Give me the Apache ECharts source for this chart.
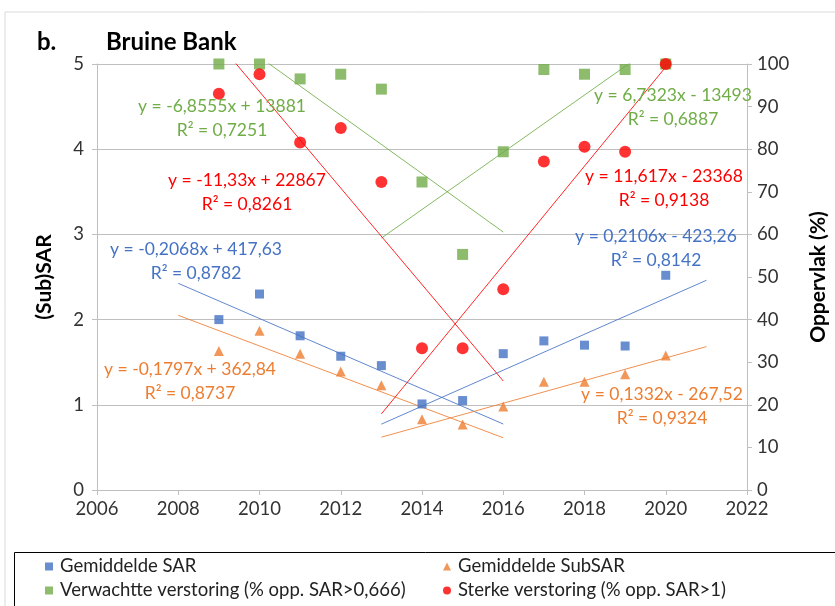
<!DOCTYPE html>
<html><head><meta charset="utf-8">
<script src="https://cdn.jsdelivr.net/npm/echarts@6/dist/echarts.min.js"></script>
<style>html,body{margin:0;padding:0;background:#fff}#c{width:835px;height:606px}</style>
</head><body><div id="c"></div>
<script>
var years = [2009,2010,2011,2012,2013,2014,2015,2016,2017,2018,2019,2020];
var sar = [2.00,2.30,1.81,1.57,1.46,1.01,1.05,1.60,1.75,1.70,1.69,2.52];
var subsar = [1.63,1.87,1.60,1.39,1.23,0.83,0.77,0.98,1.27,1.27,1.36,1.58];
var verwacht = [100,100,96.5,97.6,94.1,72.3,55.3,79.4,98.7,97.6,98.7,100];
var sterk = [93.0,97.6,81.6,85.0,72.3,33.3,33.3,47.1,77.1,80.6,79.4,100];
var seriesNames = ['Gemiddelde SAR','Gemiddelde SubSAR','Verwachtte verstoring (% opp. SAR>0,666)','Sterke verstoring (% opp. SAR>1)'];
var xTicks = [2006,2008,2010,2012,2014,2016,2018,2020,2022];
// trend fit periods
var fitDown = [2009,2015], extDown = [2008,2016];
var fitUp = [2014,2020], extUp = [2013,2021];
var eqTexts = {
  sarDown:['y = -0,2068x + 417,63','R² = 0,8782'],
  sarUp:['y = 0,2106x - 423,26','R² = 0,8142'],
  subDown:['y = -0,1797x + 362,84','R² = 0,8737'],
  subUp:['y = 0,1332x - 267,52','R² = 0,9324'],
  verDown:['y = -6,8555x + 13881','R² = 0,7251'],
  verUp:['y = 6,7323x - 13493','R² = 0,6887'],
  stDown:['y = -11,33x + 22867','R² = 0,8261'],
  stUp:['y = 11,617x - 23368','R² = 0,9138']
};

function fitLine(vals, fit, ext){
  var xs=[],ys=[];
  for(var i=0;i<years.length;i++){ if(years[i]>=fit[0]&&years[i]<=fit[1]){xs.push(years[i]);ys.push(vals[i]);} }
  var n=xs.length,mx=0,my=0;
  xs.forEach(function(v){mx+=v/n}); ys.forEach(function(v){my+=v/n});
  var sxy=0,sxx=0;
  for(var j=0;j<n;j++){sxy+=(xs[j]-mx)*(ys[j]-my);sxx+=(xs[j]-mx)*(xs[j]-mx);}
  var a=sxy/sxx;
  return [[ext[0], my+a*(ext[0]-mx)],[ext[1], my+a*(ext[1]-mx)]];
}
function pts(vals){return years.map(function(y,i){return [y,vals[i]];});}

var C = {blue:'#4472C4',orange:'#ED7D31',green:'#70AD47',red:'#FF0000'};
var FONT = 'Lato';

function trend(vals, fit, ext, color, yi){
  return {type:'line', yAxisIndex:yi, data:fitLine(vals,fit,ext), symbol:'none', silent:true,
    lineStyle:{color:color,width:1,opacity:0.85}, clip:true, z:1, animation:false};
}
function eqText(lines, cx, cy, color){
  return lines.map(function(t,i){
    return {type:'text', x:cx, y:cy+i*24, style:{text:t, fill:color, font:'17.5px '+FONT, textAlign:'center', textVerticalAlign:'middle'}, z:10};
  });
}

var chart = echarts.init(document.getElementById('c'), null, {renderer:'canvas'});
var graphics = [
  {type:'rect', shape:{x:5,y:12,width:900,height:700}, style:{fill:'none',stroke:'#d9d9d9',lineWidth:1}, z:0},
  {type:'rect', shape:{x:14.5,y:552.5,width:900,height:100}, style:{fill:'none',stroke:'#000',lineWidth:1}, z:0},
  {type:'text', x:37, y:42, style:{text:'b.', font:'bold 24px '+FONT, fill:'#000', textVerticalAlign:'middle'}},
  {type:'text', x:106, y:42, style:{text:'Bruine Bank', font:'bold 24px '+FONT, fill:'#000', textVerticalAlign:'middle'}}
];
graphics = graphics
  .concat(eqText(eqTexts.verDown, 222, 106, C.green))
  .concat(eqText(eqTexts.stDown, 247, 180, C.red))
  .concat(eqText(eqTexts.sarDown, 196, 249, C.blue))
  .concat(eqText(eqTexts.subDown, 190, 369, C.orange))
  .concat(eqText(eqTexts.verUp, 673, 95, C.green))
  .concat(eqText(eqTexts.stUp, 664, 176, C.red))
  .concat(eqText(eqTexts.sarUp, 656, 236, C.blue))
  .concat(eqText(eqTexts.subUp, 662, 394, C.orange));

function legendAt(name, left, top, icon){
  return {data:[{name:name, icon:icon}], left:left, top:top, itemWidth:8, itemHeight:8, itemGap:0,
    textStyle:{fontFamily:FONT, fontSize:18.5, color:'#222', padding:[0,0,0,2]}, selectedMode:false, padding:0};
}

var option = {
  animation:false,
  backgroundColor:'#fff',
  grid:{left:97, right:88, top:64, bottom:116, containLabel:false, outerBoundsMode:'none'},
  legend:[
    legendAt(seriesNames[0], 45, 557, 'rect'),
    legendAt(seriesNames[1], 443, 557, 'triangle'),
    legendAt(seriesNames[2], 45, 581, 'rect'),
    legendAt(seriesNames[3], 443, 581, 'circle')
  ],
  xAxis:{type:'value', min:xTicks[0], max:xTicks[xTicks.length-1], interval:2,
    axisLine:{lineStyle:{color:'#bfbfbf'}}, axisTick:{show:true,length:5,lineStyle:{color:'#bfbfbf'}},
    axisLabel:{fontFamily:FONT, fontSize:18.5, color:'#333', margin:10, formatter:function(v){return String(v);}},
    splitLine:{show:false}},
  yAxis:[
    {type:'value', min:0, max:5, interval:1, name:'(Sub)SAR', nameLocation:'middle', nameGap:42,
      nameTextStyle:{fontFamily:FONT, fontSize:21, fontWeight:'bold', color:'#000'},
      axisLine:{show:true, lineStyle:{color:'#bfbfbf'}}, axisTick:{show:true,length:5,lineStyle:{color:'#bfbfbf'}},
      axisLabel:{fontFamily:FONT, fontSize:18.5, color:'#333', margin:13},
      splitLine:{show:true, lineStyle:{color:'#bfbfbf', width:1}}},
    {type:'value', min:0, max:100, interval:10, position:'right', name:'Oppervlak (%)', nameLocation:'middle', nameGap:61, nameRotate:90,
      nameTextStyle:{fontFamily:FONT, fontSize:21, fontWeight:'bold', color:'#000'},
      axisLine:{show:true, lineStyle:{color:'#bfbfbf'}}, axisTick:{show:true,length:5,lineStyle:{color:'#bfbfbf'}},
      axisLabel:{fontFamily:FONT, fontSize:18.5, color:'#333', margin:10},
      splitLine:{show:false}}
  ],
  series:[
    trend(sar, fitDown, extDown, C.blue, 0),
    trend(sar, fitUp, extUp, C.blue, 0),
    trend(subsar, fitDown, extDown, C.orange, 0),
    trend(subsar, fitUp, extUp, C.orange, 0),
    trend(verwacht, fitDown, extDown, C.green, 1),
    trend(verwacht, fitUp, extUp, C.green, 1),
    trend(sterk, fitDown, extDown, C.red, 1),
    trend(sterk, fitUp, extUp, C.red, 1),
    {name:seriesNames[0], type:'scatter', yAxisIndex:0, data:pts(sar), symbol:'rect', symbolSize:9, itemStyle:{color:C.blue}, z:3},
    {name:seriesNames[1], type:'scatter', yAxisIndex:0, data:pts(subsar), symbol:'triangle', symbolSize:10, itemStyle:{color:C.orange}, z:3},
    {name:seriesNames[2], type:'scatter', yAxisIndex:1, data:pts(verwacht), symbol:'rect', symbolSize:11, itemStyle:{color:C.green}, z:3},
    {name:seriesNames[3], type:'scatter', yAxisIndex:1, data:pts(sterk), symbol:'circle', symbolSize:12, itemStyle:{color:C.red}, z:4}
  ],
  graphic:graphics
};
chart.setOption(option);
</script></body></html>
